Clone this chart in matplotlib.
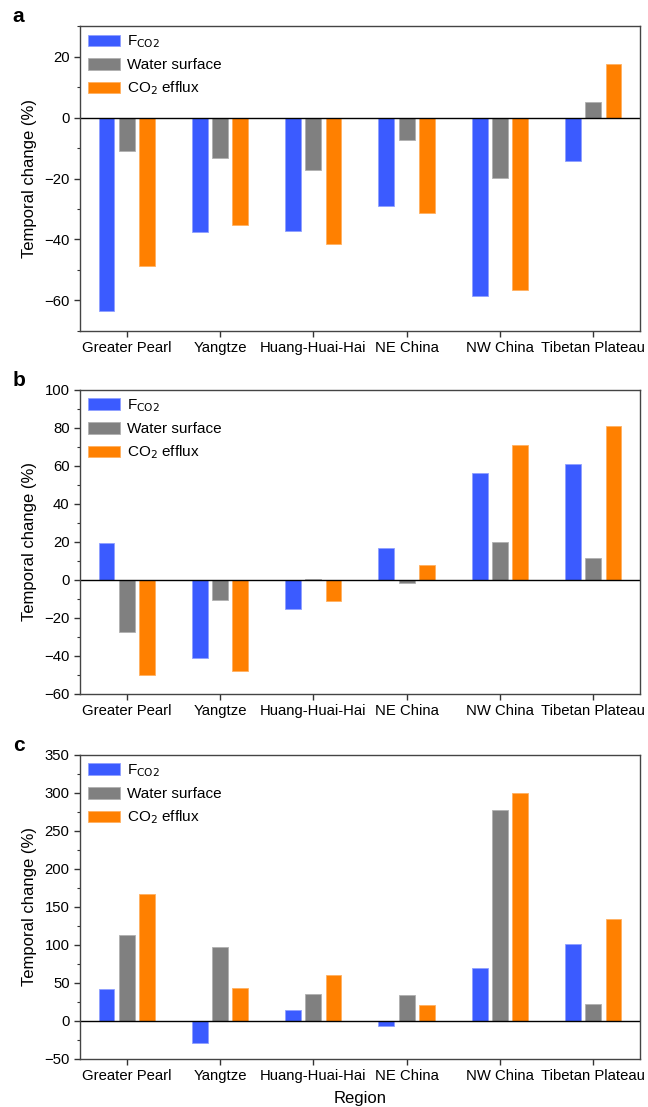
#import modules
import matplotlib
matplotlib.use('Agg')
import matplotlib.pyplot as plt
from matplotlib.ticker import MultipleLocator
import numpy as np

plt.rcParams['font.family'] = ['Liberation Sans', 'DejaVu Sans']

#data
regions = ['Greater Pearl', 'Yangtze', 'Huang-Huai-Hai', 'NE China', 'NW China', 'Tibetan Plateau']
series_names = ['F$_{\\mathrm{CO2}}$', 'Water surface', 'CO$_2$ efflux']

# panel a
fco2_a = [-63.5, -37.4, -37.3, -29.1, -58.5, -14.1]
water_a = [-11.1, -13.2, -17.3, -7.3, -19.8, 5.1]
efflux_a = [-48.7, -35.1, -41.5, -31.4, -56.4, 17.6]

# panel b
fco2_b = [19.4, -40.8, -15.1, 16.8, 56.4, 61.3]
water_b = [-27.3, -10.4, 0.4, -1.6, 19.8, 11.6]
efflux_b = [-50.1, -47.8, -11.2, 7.7, 71.3, 80.9]

# panel c
fco2_c = [41.0, -29.8, 14.5, -7.5, 68.9, 101.3]
water_c = [112.3, 97.4, 34.7, 33.4, 278.0, 22.0]
efflux_c = [167.1, 43.0, 60.1, 20.2, 300.5, 133.4]

colors = ['#3b5bff', '#808080', '#ff8000']
edges = ['#8fa0ff', '#b0b0b0', '#ffb060']

fig = plt.figure(figsize=(6.48, 11.07), dpi=100)

panels = [
    ('a', [fco2_a, water_a, efflux_a], (-70, 30), 20, 10, [0.1235, 0.701, 0.864, 0.2755]),
    ('b', [fco2_b, water_b, efflux_b], (-60, 100), 20, 10, [0.1235, 0.3731, 0.864, 0.2746]),
    ('c', [fco2_c, water_c, efflux_c], (-50, 350), 50, 25, [0.1235, 0.0438, 0.864, 0.2742]),
]

x = np.arange(1, len(regions) + 1)
width = 0.17
offsets = [-0.217, 0, 0.217]

for label, data, ylim, major, minor, rect in panels:
    ax = fig.add_axes(rect)
    for vals, off, c, ec, name in zip(data, offsets, colors, edges, series_names):
        ax.bar(x + off, vals, width, color=c, edgecolor=ec, linewidth=0.6, label=name)
    ax.axhline(0, color='black', lw=1)

    ax.set_xlim(0.5, 6.5)
    ax.set_ylim(*ylim)
    ax.set_xticks(x)
    ax.set_xticklabels(regions, fontsize=10.7)
    ax.yaxis.set_major_locator(MultipleLocator(major))
    ax.yaxis.set_minor_locator(MultipleLocator(minor))
    ax.tick_params(axis='both', which='major', direction='out', length=4, width=1,
                   labelsize=10.7, top=False, right=False, colors='#333333', labelcolor='black')
    ax.tick_params(axis='y', which='minor', direction='out', length=2.5, width=0.8,
                   right=False, colors='#333333')
    for s in ax.spines.values():
        s.set_color('#444444')
        s.set_linewidth(1.0)

    ax.set_ylabel('Temporal change (%)', fontsize=12, labelpad=5)
    ax.legend(loc='upper left', frameon=False, fontsize=11, handlelength=2.1,
              handleheight=0.8, labelspacing=0.5, handletextpad=0.45,
              borderaxespad=0.3, borderpad=0.2)
    ax.text(-0.12, 1.0, label, transform=ax.transAxes, fontsize=15,
            fontweight='bold', va='bottom', ha='left')

    if label == 'c':
        ax.set_xlabel('Region', fontsize=12, labelpad=6)

fig.savefig('out.png', dpi=100)
